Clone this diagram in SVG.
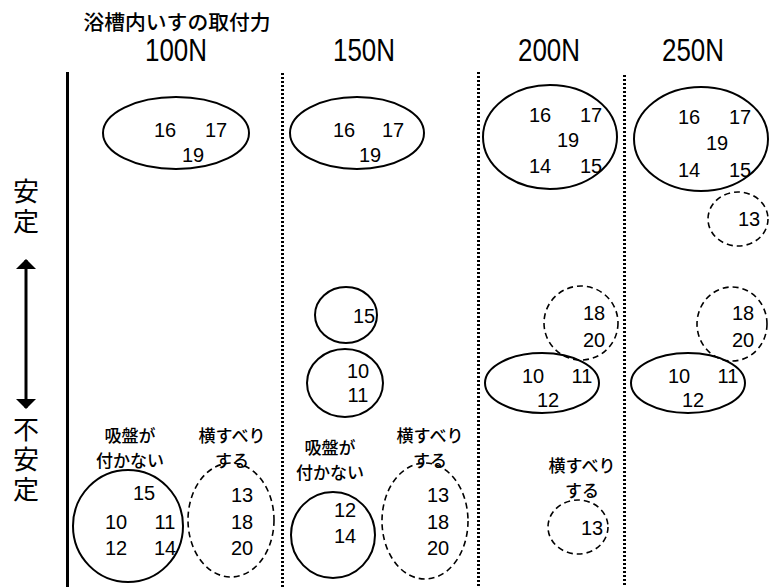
<svg xmlns="http://www.w3.org/2000/svg" width="773" height="587" viewBox="0 0 773 587">
<style>
.num{font-family:"Liberation Sans",Arial,sans-serif;font-size:20px;fill:#000;text-anchor:middle}
.hd{font-family:"Liberation Sans",Arial,sans-serif;font-size:31px;fill:#000}
.jp{font-family:"Noto Sans CJK JP","Noto Sans CJK SC",sans-serif;fill:#000;text-anchor:middle;font-weight:500}
.lbl{font-size:17px}
.side{font-size:26px;writing-mode:vertical-rl;text-anchor:start;letter-spacing:4px;font-weight:normal}
.sol{fill:none;stroke:#000;stroke-width:2}
.dsh{fill:none;stroke:#000;stroke-width:1.6;stroke-dasharray:6 4}
.dot{stroke:#000;stroke-width:3;stroke-dasharray:2 2}
</style>
<defs>
<marker id="ah" viewBox="0 0 10 20" refX="9" refY="10" markerWidth="10" markerHeight="20" markerUnits="userSpaceOnUse" orient="auto-start-reverse">
<path d="M0,0 L10,10 L0,20 Z" fill="#000"/>
</marker>
</defs>
<rect width="773" height="587" fill="#fff"/>
<g id="title">
<text class="jp" x="177" y="30" font-size="20" textLength="187" lengthAdjust="spacingAndGlyphs">浴槽内いすの取付力</text>
</g>
<g id="headers">
<text class="hd" x="145" y="61" textLength="62" lengthAdjust="spacingAndGlyphs">100N</text>
<text class="hd" x="333" y="61" textLength="62" lengthAdjust="spacingAndGlyphs">150N</text>
<text class="hd" x="518" y="61" textLength="62" lengthAdjust="spacingAndGlyphs">200N</text>
<text class="hd" x="662" y="61" textLength="62" lengthAdjust="spacingAndGlyphs">250N</text>
</g>
<g id="axis">
<line x1="67.5" y1="72" x2="67.5" y2="587" stroke="#000" stroke-width="3"/>
<line class="dot" x1="282.5" y1="73" x2="282.5" y2="587"/>
<line class="dot" x1="478.5" y1="72" x2="478.5" y2="587"/>
<line class="dot" x1="624.5" y1="75" x2="624.5" y2="587"/>
</g>
<g id="stability">
<text class="jp side" x="26" y="178">安定</text>
<line x1="26" y1="260" x2="26" y2="408" stroke="#000" stroke-width="3" marker-start="url(#ah)" marker-end="url(#ah)"/>
<text class="jp side" x="26" y="416">不安定</text>
</g>
<g id="g100-top">
<ellipse class="sol" cx="176" cy="133" rx="73" ry="36"/>
<text class="num" x="165" y="137">16</text><text class="num" x="216" y="137">17</text><text class="num" x="193" y="162">19</text>
</g>
<g id="g150-top">
<ellipse class="sol" cx="357" cy="133" rx="67" ry="36"/>
<text class="num" x="344" y="137">16</text><text class="num" x="393" y="137">17</text><text class="num" x="370" y="162">19</text>
</g>
<g id="g200-top">
<ellipse class="sol" cx="550" cy="137" rx="67" ry="52"/>
<text class="num" x="540" y="122">16</text><text class="num" x="591" y="122">17</text><text class="num" x="568" y="147">19</text>
<text class="num" x="540" y="173">14</text><text class="num" x="591" y="173">15</text>
</g>
<g id="g250-top">
<ellipse class="sol" cx="701" cy="139" rx="67" ry="52"/>
<text class="num" x="689" y="124">16</text><text class="num" x="740" y="124">17</text><text class="num" x="717" y="150">19</text>
<text class="num" x="689" y="177">14</text><text class="num" x="740" y="177">15</text>
</g>
<g id="g250-13">
<ellipse class="dsh" cx="738" cy="219" rx="30" ry="27"/>
<text class="num" x="749" y="226">13</text>
</g>
<g id="g150-15">
<ellipse class="sol" cx="346" cy="315" rx="31" ry="28"/>
<text class="num" x="364" y="323">15</text>
</g>
<g id="g150-1011">
<ellipse class="sol" cx="345" cy="383" rx="38" ry="34"/>
<text class="num" x="358" y="378">10</text><text class="num" x="358" y="402">11</text>
</g>
<g id="g200-1820">
<ellipse class="dsh" cx="581" cy="323" rx="37" ry="37"/>
<text class="num" x="594" y="320">18</text><text class="num" x="594" y="347">20</text>
</g>
<g id="g200-101112">
<ellipse class="sol" cx="542" cy="383" rx="57" ry="30"/>
<text class="num" x="533" y="383">10</text><text class="num" x="582" y="383">11</text><text class="num" x="548" y="407">12</text>
</g>
<g id="g250-1820">
<ellipse class="dsh" cx="732" cy="324" rx="35" ry="37"/>
<text class="num" x="743" y="320">18</text><text class="num" x="743" y="347">20</text>
</g>
<g id="g250-101112">
<ellipse class="sol" cx="688" cy="383" rx="57" ry="30"/>
<text class="num" x="679" y="383">10</text><text class="num" x="728" y="383">11</text><text class="num" x="693" y="407">12</text>
</g>
<g id="g100-suction">
<text class="jp lbl" x="130" y="442">吸盤が</text>
<text class="jp lbl" x="130" y="467">付かない</text>
<ellipse class="sol" cx="128" cy="526" rx="55" ry="56"/>
<text class="num" x="144" y="500">15</text>
<text class="num" x="116" y="529">10</text><text class="num" x="165" y="529">11</text>
<text class="num" x="116" y="555">12</text><text class="num" x="165" y="555">14</text>
</g>
<g id="g100-slide">
<text class="jp lbl" x="232" y="442">横すべり</text>
<text class="jp lbl" x="232" y="467">する</text>
<ellipse class="dsh" cx="231" cy="520" rx="43" ry="57"/>
<text class="num" x="242" y="502">13</text><text class="num" x="242" y="529">18</text><text class="num" x="242" y="555">20</text>
</g>
<g id="g150-suction">
<text class="jp lbl" x="330" y="454">吸盤が</text>
<text class="jp lbl" x="330" y="479">付かない</text>
<ellipse class="sol" cx="333" cy="535" rx="42" ry="43"/>
<text class="num" x="345" y="517">12</text><text class="num" x="345" y="543">14</text>
</g>
<g id="g150-slide">
<text class="jp lbl" x="430" y="442">横すべり</text>
<text class="jp lbl" x="430" y="467">する</text>
<ellipse class="dsh" cx="425" cy="521" rx="43" ry="58"/>
<text class="num" x="438" y="502">13</text><text class="num" x="438" y="529">18</text><text class="num" x="438" y="555">20</text>
</g>
<g id="g200-slide">
<text class="jp lbl" x="582" y="472">横すべり</text>
<text class="jp lbl" x="582" y="497">する</text>
<ellipse class="dsh" cx="578" cy="527" rx="30" ry="27"/>
<text class="num" x="592" y="535">13</text>
</g>
</svg>
